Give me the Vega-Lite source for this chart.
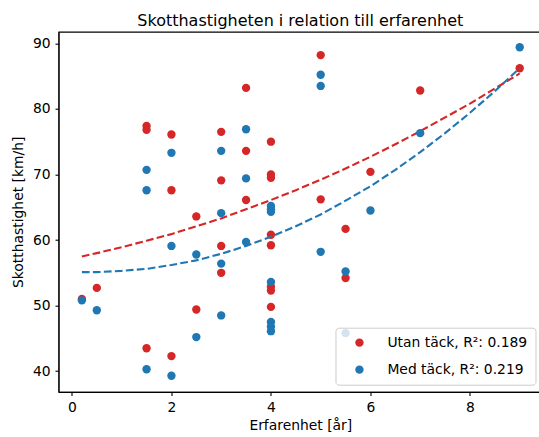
{
  "$schema": "https://vega.github.io/schema/vega-lite/v6.json",
  "width": 483.6,
  "height": 360.2,
  "autosize": {"type": "none"},
  "padding": {"left": 58.5, "top": 31.7, "right": 0, "bottom": 45.1},
  "background": "white",
  "title": {
    "text": "Skotthastigheten i relation till erfarenhet",
    "fontSize": 16,
    "fontWeight": "normal",
    "font": "DejaVu Sans",
    "color": "#000000",
    "anchor": "middle",
    "baseline": "bottom",
    "offset": 5,
    "dy": 18,
    "frame": "group"
  },
  "datasets": {
    "punkter": [
      {"x": 0.2, "v": 51.0, "grupp": "Utan täck"},
      {"x": 0.5, "v": 52.7, "grupp": "Utan täck"},
      {"x": 1.5, "v": 77.4, "grupp": "Utan täck"},
      {"x": 1.5, "v": 76.8, "grupp": "Utan täck"},
      {"x": 1.5, "v": 43.5, "grupp": "Utan täck"},
      {"x": 2, "v": 76.1, "grupp": "Utan täck"},
      {"x": 2, "v": 67.6, "grupp": "Utan täck"},
      {"x": 2, "v": 42.3, "grupp": "Utan täck"},
      {"x": 2.5, "v": 63.6, "grupp": "Utan täck"},
      {"x": 2.5, "v": 49.4, "grupp": "Utan täck"},
      {"x": 3, "v": 76.5, "grupp": "Utan täck"},
      {"x": 3, "v": 69.1, "grupp": "Utan täck"},
      {"x": 3, "v": 59.1, "grupp": "Utan täck"},
      {"x": 3, "v": 55.0, "grupp": "Utan täck"},
      {"x": 3.5, "v": 83.2, "grupp": "Utan täck"},
      {"x": 3.5, "v": 73.6, "grupp": "Utan täck"},
      {"x": 3.5, "v": 66.1, "grupp": "Utan täck"},
      {"x": 4, "v": 75.0, "grupp": "Utan täck"},
      {"x": 4, "v": 70.0, "grupp": "Utan täck"},
      {"x": 4, "v": 69.5, "grupp": "Utan täck"},
      {"x": 4, "v": 60.8, "grupp": "Utan täck"},
      {"x": 4, "v": 59.2, "grupp": "Utan täck"},
      {"x": 4, "v": 52.9, "grupp": "Utan täck"},
      {"x": 4, "v": 52.3, "grupp": "Utan täck"},
      {"x": 4, "v": 49.8, "grupp": "Utan täck"},
      {"x": 5, "v": 88.2, "grupp": "Utan täck"},
      {"x": 5, "v": 66.2, "grupp": "Utan täck"},
      {"x": 5.5, "v": 61.7, "grupp": "Utan täck"},
      {"x": 5.5, "v": 54.2, "grupp": "Utan täck"},
      {"x": 6, "v": 70.4, "grupp": "Utan täck"},
      {"x": 7, "v": 82.8, "grupp": "Utan täck"},
      {"x": 9, "v": 86.2, "grupp": "Utan täck"},
      {"x": 0.2, "v": 50.8, "grupp": "Med täck"},
      {"x": 0.5, "v": 49.3, "grupp": "Med täck"},
      {"x": 1.5, "v": 70.7, "grupp": "Med täck"},
      {"x": 1.5, "v": 67.6, "grupp": "Med täck"},
      {"x": 1.5, "v": 40.3, "grupp": "Med täck"},
      {"x": 2, "v": 73.3, "grupp": "Med täck"},
      {"x": 2, "v": 59.1, "grupp": "Med täck"},
      {"x": 2, "v": 39.3, "grupp": "Med täck"},
      {"x": 2.5, "v": 57.8, "grupp": "Med täck"},
      {"x": 2.5, "v": 45.2, "grupp": "Med täck"},
      {"x": 3, "v": 73.6, "grupp": "Med täck"},
      {"x": 3, "v": 64.1, "grupp": "Med täck"},
      {"x": 3, "v": 56.4, "grupp": "Med täck"},
      {"x": 3, "v": 48.5, "grupp": "Med täck"},
      {"x": 3.5, "v": 76.9, "grupp": "Med täck"},
      {"x": 3.5, "v": 69.4, "grupp": "Med täck"},
      {"x": 3.5, "v": 59.7, "grupp": "Med täck"},
      {"x": 4, "v": 65.2, "grupp": "Med täck"},
      {"x": 4, "v": 64.7, "grupp": "Med täck"},
      {"x": 4, "v": 64.3, "grupp": "Med täck"},
      {"x": 4, "v": 53.6, "grupp": "Med täck"},
      {"x": 4, "v": 47.5, "grupp": "Med täck"},
      {"x": 4, "v": 46.8, "grupp": "Med täck"},
      {"x": 4, "v": 46.1, "grupp": "Med täck"},
      {"x": 5, "v": 85.2, "grupp": "Med täck"},
      {"x": 5, "v": 83.5, "grupp": "Med täck"},
      {"x": 5, "v": 58.2, "grupp": "Med täck"},
      {"x": 5.5, "v": 55.2, "grupp": "Med täck"},
      {"x": 5.5, "v": 45.8, "grupp": "Med täck"},
      {"x": 6, "v": 64.5, "grupp": "Med täck"},
      {"x": 7, "v": 76.3, "grupp": "Med täck"},
      {"x": 9, "v": 89.4, "grupp": "Med täck"}
    ],
    "kurvor": [
      {"x": 0.2, "v": 57.5, "grupp": "Utan täck"},
      {"x": 0.5, "v": 58.0, "grupp": "Utan täck"},
      {"x": 1, "v": 58.9, "grupp": "Utan täck"},
      {"x": 1.5, "v": 59.9, "grupp": "Utan täck"},
      {"x": 2, "v": 60.9, "grupp": "Utan täck"},
      {"x": 2.5, "v": 62.1, "grupp": "Utan täck"},
      {"x": 3, "v": 63.3, "grupp": "Utan täck"},
      {"x": 3.5, "v": 64.7, "grupp": "Utan täck"},
      {"x": 4, "v": 66.1, "grupp": "Utan täck"},
      {"x": 4.5, "v": 67.6, "grupp": "Utan täck"},
      {"x": 5, "v": 69.2, "grupp": "Utan täck"},
      {"x": 5.5, "v": 70.9, "grupp": "Utan täck"},
      {"x": 6, "v": 72.7, "grupp": "Utan täck"},
      {"x": 6.5, "v": 74.6, "grupp": "Utan täck"},
      {"x": 7, "v": 76.6, "grupp": "Utan täck"},
      {"x": 7.5, "v": 78.7, "grupp": "Utan täck"},
      {"x": 8, "v": 80.8, "grupp": "Utan täck"},
      {"x": 8.5, "v": 83.1, "grupp": "Utan täck"},
      {"x": 9, "v": 85.4, "grupp": "Utan täck"},
      {"x": 0.2, "v": 55.1, "grupp": "Med täck"},
      {"x": 0.5, "v": 55.1, "grupp": "Med täck"},
      {"x": 1, "v": 55.3, "grupp": "Med täck"},
      {"x": 1.5, "v": 55.6, "grupp": "Med täck"},
      {"x": 2, "v": 56.2, "grupp": "Med täck"},
      {"x": 2.5, "v": 56.9, "grupp": "Med täck"},
      {"x": 3, "v": 57.9, "grupp": "Med täck"},
      {"x": 3.5, "v": 59.1, "grupp": "Med täck"},
      {"x": 4, "v": 60.5, "grupp": "Med täck"},
      {"x": 4.5, "v": 62.1, "grupp": "Med täck"},
      {"x": 5, "v": 63.9, "grupp": "Med täck"},
      {"x": 5.5, "v": 66.0, "grupp": "Med täck"},
      {"x": 6, "v": 68.2, "grupp": "Med täck"},
      {"x": 6.5, "v": 70.7, "grupp": "Med täck"},
      {"x": 7, "v": 73.4, "grupp": "Med täck"},
      {"x": 7.5, "v": 76.3, "grupp": "Med täck"},
      {"x": 8, "v": 79.4, "grupp": "Med täck"},
      {"x": 8.5, "v": 82.7, "grupp": "Med täck"},
      {"x": 9, "v": 86.2, "grupp": "Med täck"}
    ]
  },
  "encoding": {
    "x": {
      "field": "x",
      "type": "quantitative",
      "scale": {"domain": [-0.27, 9.45], "nice": false, "zero": false},
      "axis": {"values": [0, 2, 4, 6, 8], "title": "Erfarenhet [år]", "titlePadding": 4}
    },
    "y": {
      "field": "v",
      "type": "quantitative",
      "scale": {"domain": [36.84, 91.77], "nice": false, "zero": false},
      "axis": {"values": [40, 50, 60, 70, 80, 90], "title": "Skotthastighet [km/h]", "titlePadding": 7}
    }
  },
  "layer": [
    {
      "data": {"name": "punkter"},
      "transform": [{"filter": "datum.grupp == 'Utan täck'"}],
      "mark": {"type": "point", "filled": true, "opacity": 1, "size": 70, "shape": "circle"},
      "encoding": {
        "color": {
          "field": "grupp",
          "type": "nominal",
          "scale": {"domain": ["Utan täck", "Med täck"], "range": ["#d62728", "#1f77b4"]},
          "legend": {
            "title": null,
            "orient": "bottom-right",
            "offset": 7,
            "labelExpr": "datum.label == 'Utan täck' ? 'Utan täck, R²: 0.189' : 'Med täck, R²: 0.219'"
          }
        }
      }
    },
    {
      "data": {"name": "kurvor"},
      "transform": [{"filter": "datum.grupp == 'Utan täck'"}],
      "mark": {"type": "line", "color": "#d62728", "strokeDash": [7.7, 3.3], "strokeWidth": 2.1},
      "encoding": {}
    },
    {
      "data": {"name": "punkter"},
      "transform": [{"filter": "datum.grupp == 'Med täck'"}],
      "mark": {"type": "point", "filled": true, "opacity": 1, "size": 70, "shape": "circle"},
      "encoding": {
        "color": {
          "field": "grupp",
          "type": "nominal",
          "scale": {"domain": ["Utan täck", "Med täck"], "range": ["#d62728", "#1f77b4"]}
        }
      }
    },
    {
      "data": {"name": "kurvor"},
      "transform": [{"filter": "datum.grupp == 'Med täck'"}],
      "mark": {"type": "line", "color": "#1f77b4", "strokeDash": [7.7, 3.3], "strokeWidth": 2.1},
      "encoding": {}
    }
  ],
  "config": {
    "font": "DejaVu Sans",
    "view": {"stroke": "#000000", "strokeWidth": 1.1},
    "axis": {
      "grid": false,
      "domainColor": "#000000",
      "domainWidth": 1.1,
      "tickColor": "#000000",
      "tickWidth": 1.1,
      "tickSize": 3.5,
      "labelFont": "DejaVu Sans",
      "labelFontSize": 13.9,
      "labelColor": "#000000",
      "labelPadding": 4.9,
      "titleFont": "DejaVu Sans",
      "titleFontSize": 13.9,
      "titleFontWeight": "normal",
      "titleColor": "#000000"
    },
    "legend": {
      "symbolType": "circle",
      "symbolSize": 70,
      "symbolStrokeWidth": 0,
      "labelFont": "DejaVu Sans",
      "labelFontSize": 13.9,
      "labelColor": "#000000",
      "labelLimit": 300,
      "strokeColor": "#cccccc",
      "fillColor": "rgba(255,255,255,0.8)",
      "cornerRadius": 3,
      "padding": 8,
      "rowPadding": 12,
      "symbolOffset": 9,
      "labelOffset": 21
    }
  }
}
